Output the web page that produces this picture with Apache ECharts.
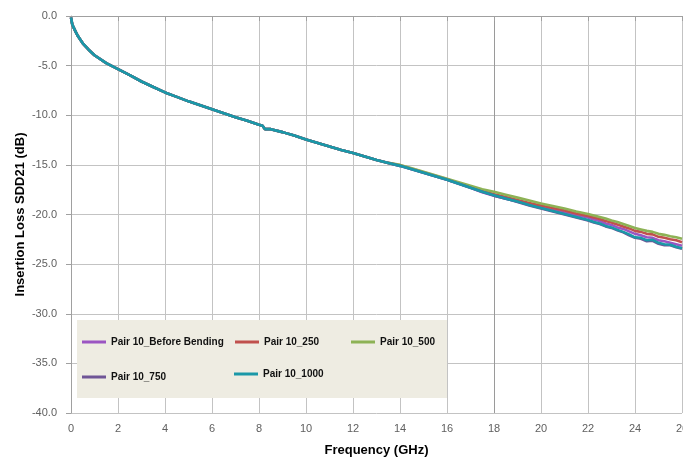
<!DOCTYPE html>
<html>
<head>
<meta charset="utf-8">
<script src="https://cdn.jsdelivr.net/npm/echarts@6/dist/echarts.min.js"></script>
<style>
html,body{margin:0;padding:0;background:#fff;}
#chart{width:683px;height:459px;}
</style>
</head>
<body>
<div id="chart"></div>
<script>
// Frequency points (GHz)
var freqHead = [0, 0.05, 0.1, 0.2, 0.3, 0.5, 0.75, 1, 1.5, 2, 2.5, 3, 3.5, 4, 4.5, 5, 5.5, 6, 6.5, 7, 7.5, 8, 8.15, 8.25, 8.5, 9, 9.5, 10, 10.5, 11, 11.5, 12, 12.5, 13, 13.5];
var freqTail = [14, 14.5, 15, 15.5, 16, 16.5, 17, 17.5, 18, 18.5, 19, 19.5, 20, 20.5, 21, 21.5, 22, 22.25, 22.5, 22.75, 23, 23.25, 23.5, 23.75, 24, 24.25, 24.5, 24.75, 25, 25.25, 25.5, 25.75, 26];

// Shared low-frequency portion (all five traces overlap here)
var commonHead = [-0.15, -0.8, -1.1, -1.6, -2.05, -2.75, -3.4, -3.95, -4.75, -5.35, -5.95, -6.6, -7.15, -7.7, -8.15, -8.6, -9.0, -9.4, -9.8, -10.2, -10.55, -10.95, -11.05, -11.4, -11.4, -11.7, -12.05, -12.45, -12.8, -13.15, -13.5, -13.8, -14.15, -14.5, -14.8];

// Per-series values for 14..26 GHz
var tailBefore = [-15.1, -15.45, -15.8, -16.15, -16.5, -16.9, -17.3, -17.75, -18.1, -18.4, -18.7, -19.0, -19.3, -19.55, -19.8, -20.05, -20.3, -20.5, -20.65, -20.9, -21.05, -21.3, -21.45, -21.7, -21.95, -22.1, -22.3, -22.35, -22.6, -22.7, -22.85, -23.0, -23.15];
var tail250 = [-15.05, -15.4, -15.75, -16.1, -16.45, -16.85, -17.2, -17.6, -17.95, -18.25, -18.55, -18.85, -19.1, -19.35, -19.6, -19.9, -20.15, -20.3, -20.45, -20.65, -20.8, -21.0, -21.2, -21.4, -21.65, -21.75, -21.95, -22.0, -22.25, -22.35, -22.5, -22.6, -22.8];
var tail500 = [-15.0, -15.35, -15.7, -16.05, -16.4, -16.75, -17.1, -17.45, -17.7, -18.0, -18.3, -18.6, -18.9, -19.15, -19.4, -19.7, -19.95, -20.1, -20.25, -20.4, -20.6, -20.75, -20.95, -21.15, -21.35, -21.5, -21.65, -21.75, -21.95, -22.05, -22.2, -22.3, -22.45];
var tail750 = [-15.1, -15.45, -15.8, -16.15, -16.5, -16.9, -17.3, -17.7, -18.1, -18.4, -18.75, -19.1, -19.4, -19.7, -20.0, -20.3, -20.6, -20.8, -20.95, -21.2, -21.35, -21.6, -21.8, -22.1, -22.35, -22.45, -22.7, -22.65, -22.95, -23.1, -23.1, -23.3, -23.45];
var tail1000 = [-15.1, -15.45, -15.8, -16.15, -16.5, -16.9, -17.3, -17.7, -18.05, -18.4, -18.7, -19.05, -19.35, -19.65, -19.95, -20.25, -20.55, -20.75, -20.9, -21.15, -21.3, -21.55, -21.75, -22.0, -22.3, -22.35, -22.6, -22.55, -22.85, -23.0, -23.05, -23.25, -23.4];

var seriesNames = ['Pair 10_Before Bending', 'Pair 10_250', 'Pair 10_500', 'Pair 10_750', 'Pair 10_1000'];
var seriesColors = ['#9B55C2', '#C0504D', '#8DB255', '#6F5596', '#1A98A8'];
var seriesTails = [tailBefore, tail250, tail500, tail750, tail1000];

var yTicks = [0, -5, -10, -15, -20, -25, -30, -35, -40];
var xTicks = [0, 2, 4, 6, 8, 10, 12, 14, 16, 18, 20, 22, 24, 26];

var freq = freqHead.concat(freqTail);

function pairs(vals) {
  var out = [];
  for (var i = 0; i < freq.length; i++) out.push([freq[i], vals[i]]);
  return out;
}

var splitColors = xTicks.map(function (t) { return t === 18 ? '#9a9a9a' : '#c3c3c3'; });

var series = seriesNames.map(function (n, i) {
  return {
    name: n,
    type: 'line',
    symbol: 'none',
    smooth: false,
    data: pairs(commonHead.concat(seriesTails[i])),
    lineStyle: { width: 2.6, color: seriesColors[i] },
    itemStyle: { color: seriesColors[i] },
    z: 3
  };
});

var legendPos = [[82, 337], [235, 337], [351, 337], [82, 372], [234, 369]];
var legends = seriesNames.map(function (n, i) {
  return {
    data: [n],
    left: legendPos[i][0],
    top: legendPos[i][1],
    padding: 0,
    icon: 'rect',
    itemWidth: 24,
    itemHeight: 3,
    selectedMode: false,
    z: 20,
    textStyle: { fontFamily: 'Liberation Sans', fontWeight: 'bold', fontSize: 10, color: '#111' }
  };
});

var chart = echarts.init(document.getElementById('chart'), null, { renderer: 'canvas' });
chart.setOption({
  animation: false,
  backgroundColor: '#ffffff',
  grid: { left: 71, right: 1, top: 16, bottom: 46, containLabel: false, outerBoundsMode: 'none' },
  graphic: [{
    type: 'rect',
    shape: { x: 77, y: 320, width: 370, height: 78 },
    style: { fill: '#EEECE2' },
    z: 5
  }],
  legend: legends,
  xAxis: {
    type: 'value',
    min: 0, max: 26, interval: 2,
    name: 'Frequency (GHz)',
    nameLocation: 'middle',
    nameGap: 31,
    nameMoveOverlap: false,
    nameTextStyle: { fontFamily: 'Liberation Sans', fontWeight: 'bold', fontSize: 13, color: '#000' },
    axisLine: { lineStyle: { color: '#a0a0a0' } },
    axisTick: { show: true, inside: false, length: 5, lineStyle: { color: '#a0a0a0' } },
    axisLabel: { fontFamily: 'Liberation Sans', fontSize: 11, color: '#606060', margin: 10, hideOverlap: false,
      formatter: function (v) { return xTicks.indexOf(v) >= 0 ? String(v) : ''; } },
    splitLine: { show: true, lineStyle: { color: splitColors, width: 1 } }
  },
  yAxis: {
    type: 'value',
    min: -40, max: 0, interval: 5,
    name: 'Insertion Loss SDD21 (dB)',
    nameLocation: 'middle',
    nameGap: 44,
    nameMoveOverlap: false,
    nameTextStyle: { fontFamily: 'Liberation Sans', fontWeight: 'bold', fontSize: 13, color: '#000' },
    axisLine: { show: true, lineStyle: { color: '#a0a0a0' } },
    axisTick: { show: true, inside: false, length: 5, lineStyle: { color: '#a0a0a0' } },
    axisLabel: { fontFamily: 'Liberation Sans', fontSize: 11, color: '#606060', margin: 14,
      formatter: function (v) { return yTicks.indexOf(v) >= 0 ? v.toFixed(1) : ''; } },
    splitLine: { show: true, lineStyle: { color: '#c3c3c3', width: 1 } }
  },
  series: series
});
</script>
</body>
</html>
